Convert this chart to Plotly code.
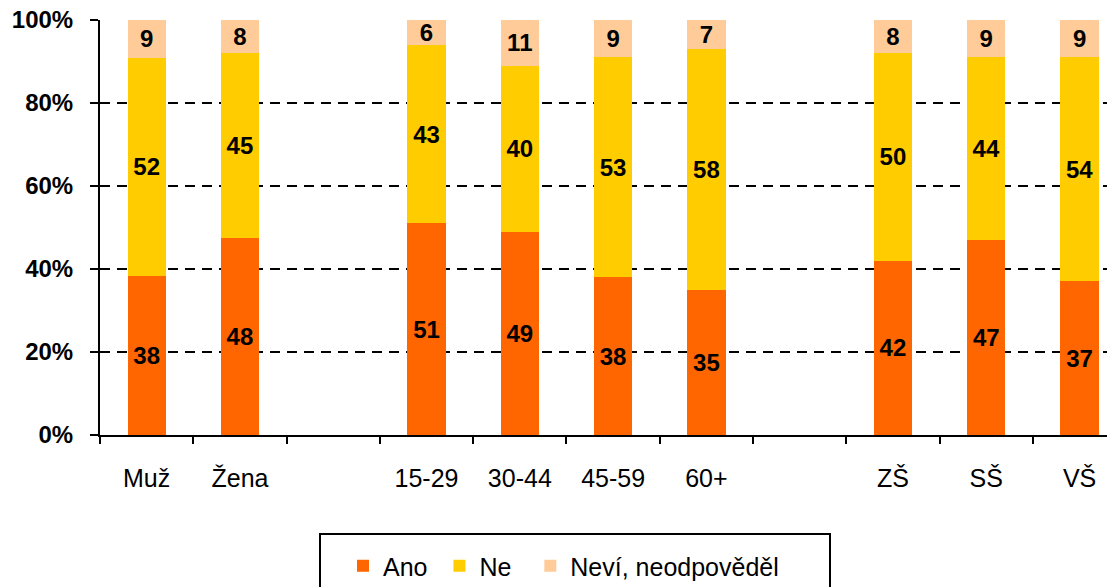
import plotly.graph_objects as go

categories = ["Muž", "Žena", "", "15-29", "30-44", "45-59", "60+", "", "ZŠ", "SŠ", "VŠ"]
ano = [38, 48, None, 51, 49, 38, 35, None, 42, 47, 37]
ne = [52, 45, None, 43, 40, 53, 58, None, 50, 44, 54]
nevi = [9, 8, None, 6, 11, 9, 7, None, 8, 9, 9]
series_names = ["Ano", "Ne", "Neví, neodpověděl"]
series_colors = ["#FF6600", "#FFCC00", "#FFCC99"]
y_ticks = [0, 20, 40, 60, 80, 100]
y_tick_labels = ["0%", "20%", "40%", "60%", "80%", "100%"]

FONT = "Liberation Sans, Arial, sans-serif"
# page has an 8px body margin; figure sized to fill the rest of the window
OX, OY = 8, 9
W, H = 1115 - OX, 588 - OY
L = 100 - OX
T = 21 - OY
PB = 436 - OY            # plot bottom in figure px
B = H - PB
plot_h = PB - T
plot_w = W - L

def px_x(p):
    return (p - OX - L) / plot_w

def px_y(p):
    return (PB - (p - OY)) / plot_h

# trailing non-breaking spaces only widen the legend entries (spacing)
legend_pad = ["\u00a0", "\u00a0\u00a0", ""]

x = list(range(len(categories)))
fig = go.Figure()
for name, pad, vals, col in zip(series_names, legend_pad, [ano, ne, nevi], series_colors):
    fig.add_trace(go.Bar(
        x=x, y=vals, name=name + pad,
        marker=dict(color=col, line=dict(width=0)),
        width=0.41,
        text=[("" if v is None else str(v)) for v in vals],
        textposition="inside", insidetextanchor="middle", textangle=0,
        textfont=dict(family=FONT, size=24, color="black", weight="bold"),
        hoverinfo="skip",
    ))

label_idx = [i for i, c in enumerate(categories) if c]
fig.update_layout(
    width=W, height=H,
    margin=dict(l=L, r=0, t=T, b=B, pad=0, autoexpand=False),
    barmode="stack", barnorm="percent",
    plot_bgcolor="white", paper_bgcolor="white",
    font=dict(family=FONT, size=25, color="black"),
    uniformtext=dict(minsize=24, mode="show"),
    showlegend=True,
    legend=dict(
        orientation="h", xanchor="left", yanchor="middle", traceorder="normal",
        x=px_x(343), y=px_y(567),
        font=dict(family=FONT, size=25, color="black"),
        bgcolor="rgba(0,0,0,0)", borderwidth=0,
    ),
    xaxis=dict(
        range=[-0.5, 10.38], tickmode="array", automargin=False,
        tickvals=label_idx, ticktext=[categories[i] for i in label_idx],
        ticks="", showgrid=False, zeroline=False,
        showline=True, linecolor="black", linewidth=2,
        ticklabelstandoff=20, ticklabeloverflow="allow",
        tickfont=dict(family=FONT, size=25, color="black"),
        minor=dict(tickvals=[i - 0.5 for i in range(len(categories) + 1)],
                   ticks="outside", ticklen=7, tickwidth=2, tickcolor="black", showgrid=False),
    ),
    yaxis=dict(
        range=[0, 100], tickmode="array", tickvals=y_ticks, ticktext=y_tick_labels,
        automargin=False, ticklabeloverflow="allow",
        ticks="outside", ticklen=8, tickwidth=2, tickcolor="black",
        showline=True, linecolor="black", linewidth=2,
        showgrid=True, gridcolor="black", gridwidth=1.5, griddash="10px,7px",
        zeroline=False, ticklabelstandoff=12,
        tickfont=dict(family=FONT, size=24, color="black", weight="bold"),
    ),
)
fig.add_shape(type="rect", xref="paper", yref="paper",
              x0=px_x(320), x1=px_x(830),
              y0=px_y(535), y1=px_y(610),
              line=dict(color="black", width=2), fillcolor="rgba(0,0,0,0)")

fig.write_html("out.html")
